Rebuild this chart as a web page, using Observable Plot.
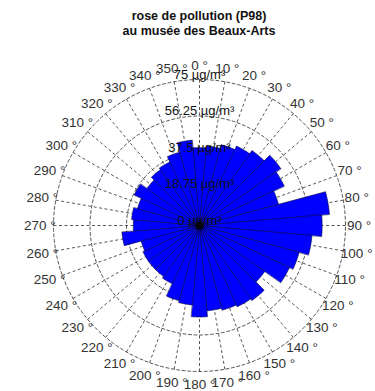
<!DOCTYPE html>
<html><head><meta charset="utf-8">
<script src="https://cdn.jsdelivr.net/npm/d3@7"></script>
<script src="https://cdn.jsdelivr.net/npm/@observablehq/plot@0.6"></script>
<style>
html,body{margin:0;padding:0;background:#fff;}
body{width:375px;height:391px;overflow:hidden;position:relative;font-family:"Liberation Sans",Arial,sans-serif;}
#title{position:absolute;left:0;top:9px;width:398px;text-align:center;font-weight:bold;font-size:12.5px;line-height:15px;color:#111;}
#chart{position:absolute;left:0;top:40px;}
</style>
</head><body>
<div id="title">rose de pollution (P98)<br>au musée des Beaux-Arts</div>
<div id="chart"></div>
<script>
// wind direction sectors (degrees, clockwise from north)
const directions = [0,10,20,30,40,50,60,70,80,90,100,110,120,130,140,150,160,170,180,190,200,210,220,230,240,250,260,270,280,290,300,310,320,330,340,350];
// P98 concentration per sector (µg/m³)
const values = [40,41,43,45,47,51,48,42,67,63,58,53,51,41,47,46,45,44,47,41,40,33,32,32,32,31,40,34,35,33,37,33,35,36,39,44];
// radial rings and their labels
const ringValues = [18.75, 37.5, 56.25, 75];
const ringLabelValues = [0, 18.75, 37.5, 56.25, 75];
const ringLabels = ["0 µg/m³", "18.75 µg/m³", "37.5 µg/m³", "56.25 µg/m³", "75 µg/m³"];
const angleLabels = directions.map(d => `${d} °`);

const rad = a => a * Math.PI / 180;
const px = (r, a) => r * Math.sin(rad(a));
const py = (r, a) => r * Math.cos(rad(a));

const wedgeRows = directions.flatMap((d, i) => {
  const r = values[i];
  const pts = [{id: d, x: 0, y: 0}];
  for (let k = 0; k <= 10; k++) pts.push({id: d, x: px(r, d - 5 + k), y: py(r, d - 5 + k)});
  return pts;
});
const ringRows = ringValues.flatMap(v => {
  const pts = [];
  for (let a = 0; a < 360; a += 2) pts.push({ring: v, x: px(v, a), y: py(v, a)});
  return pts;
});
const labelR = 82;

const chart = Plot.plot({
  width: 375,
  height: 351,
  margin: 0,
  x: {domain: [-75, 75], range: [53, 345], axis: null},
  y: {domain: [-75, 75], range: [331, 39], axis: null},
  style: {fontFamily: "'Liberation Sans', Arial, sans-serif", fontSize: "13px", background: "white", overflow: "visible"},
  marks: [
    Plot.line(ringRows, {x: "x", y: "y", z: "ring", curve: "linear-closed", stroke: "#444", strokeWidth: 0.9, strokeDasharray: "3,2.5"}),
    Plot.link(directions, {x1: 0, y1: 0, x2: d => px(75, d), y2: d => py(75, d), stroke: "#444", strokeWidth: 0.9, strokeDasharray: "3,2.5"}),
    Plot.line(wedgeRows, {x: "x", y: "y", z: "id", curve: "linear-closed", fill: "#0000ff", stroke: "#000040", strokeWidth: 0.6}),
    Plot.dot([0], {x: 0, y: 0, r: 4, fill: "black", stroke: "none"}),
    Plot.text(ringLabelValues, {x: 0, y: d => d, text: (d, i) => ringLabels[i], dy: -5, fill: "#111", fontSize: 13}),
    Plot.text(directions, {x: d => px(labelR, d), y: d => py(labelR, d), text: (d, i) => angleLabels[i], fill: "#333", fontSize: 13.5})
  ]
});
document.getElementById("chart").appendChild(chart);
</script>
</body></html>
